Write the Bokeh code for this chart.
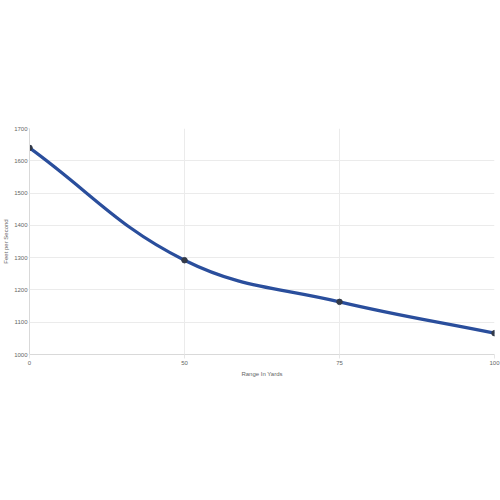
from bokeh.plotting import figure
from bokeh.embed import file_html
from bokeh.resources import INLINE
from bokeh.models import FixedTicker, Range1d
import numpy as np

categories = ["0", "50", "75", "100"]
velocity = [1640, 1292, 1163, 1066]

x = list(range(len(categories)))

p = figure(width=500, height=484, output_backend="svg", toolbar_location=None,
           x_range=Range1d(0, len(categories) - 1), y_range=Range1d(1000, 1700),
           min_border_top=128, min_border_bottom=130, min_border_right=6, min_border_left=10)
p.outline_line_color = None
p.background_fill_color = "white"

# Smooth curve (Chart.js-like tension), computed in pixel-proportional space
tension = 0.4
fw = 466.0 / 3  # px per x unit (approx)
fh = 226.0 / 700  # px per y unit
px = np.array(x, dtype=float) * fw
py = np.array(velocity, dtype=float) * fh
n = len(px)
cp_prev = []
cp_next = []
for i in range(n):
    prev_i = max(i - 1, 0)
    next_i = min(i + 1, n - 1)
    d01 = np.hypot(px[i] - px[prev_i], py[i] - py[prev_i])
    d12 = np.hypot(px[next_i] - px[i], py[next_i] - py[i])
    tot = d01 + d12 if (d01 + d12) > 0 else 1
    fa = tension * d01 / tot
    fb = tension * d12 / tot
    dx = px[next_i] - px[prev_i]
    dy = py[next_i] - py[prev_i]
    cp_prev.append((px[i] - fa * dx, py[i] - fa * dy))
    cp_next.append((px[i] + fb * dx, py[i] + fb * dy))

x0 = x[:-1]
y0 = velocity[:-1]
x1 = x[1:]
y1 = velocity[1:]
cx0 = [cp_next[i][0] / fw for i in range(n - 1)]
cy0 = [cp_next[i][1] / fh for i in range(n - 1)]
cx1 = [cp_prev[i + 1][0] / fw for i in range(n - 1)]
cy1 = [cp_prev[i + 1][1] / fh for i in range(n - 1)]

p.bezier(x0=x0, y0=y0, x1=x1, y1=y1, cx0=cx0, cy0=cy0, cx1=cx1, cy1=cy1,
         line_color="#2a4e9c", line_width=3.2)
p.scatter(x, velocity, size=5.5, fill_color="#333a48", line_color="#333a48")

p.xaxis.ticker = FixedTicker(ticks=x)
p.xaxis.major_label_overrides = {i: c for i, c in enumerate(categories)}
p.yaxis.ticker = FixedTicker(ticks=list(range(1000, 1701, 100)))

p.xaxis.axis_label = "Range In Yards"
p.yaxis.axis_label = "Feet per Second"
for ax in (p.xaxis, p.yaxis):
    ax.axis_label_text_font = "Liberation Sans"
    ax.axis_label_text_font_size = "6px"
    ax.axis_label_text_font_style = "normal"
    ax.axis_label_text_color = "#666666"
    ax.major_label_text_font = "Liberation Sans"
    ax.major_label_text_font_size = "6px"
    ax.major_label_text_color = "#666666"
    ax.axis_line_color = "#d9d9d9"
    ax.major_tick_line_color = "#e6e6e6"
    ax.major_tick_in = 0
    ax.minor_tick_line_color = None

p.xaxis.major_tick_out = 4
p.xaxis.major_label_standoff = 2
p.xaxis.axis_label_standoff = 3
p.yaxis.major_tick_out = 1
p.yaxis.major_label_standoff = 1
p.yaxis.axis_label_standoff = 2

p.xgrid.grid_line_color = "#ebebeb"
p.ygrid.grid_line_color = "#ebebeb"

open("out.html", "w").write(file_html(p, INLINE))
